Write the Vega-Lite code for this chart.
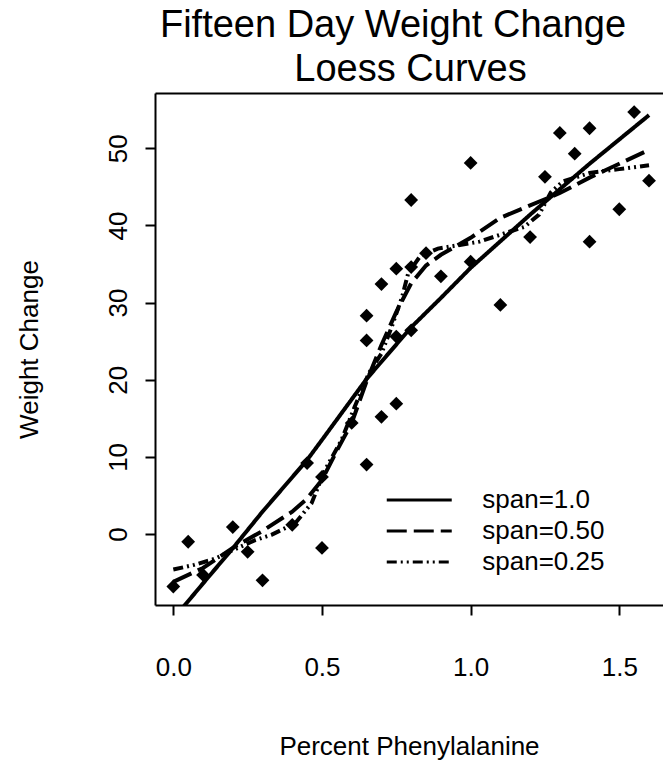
{
  "$schema": "https://vega.github.io/schema/vega-lite/v6.json",
  "width": 508,
  "height": 512,
  "autosize": "none",
  "padding": {"left": 155, "top": 93, "right": 0, "bottom": 157},
  "background": "white",
  "title": {
    "text": "Fifteen Day Weight Change",
    "fontSize": 38,
    "font": "Liberation Sans",
    "fontWeight": "normal",
    "baseline": "alphabetic",
    "offset": -25,
    "dx": -16,
    "anchor": "middle",
    "frame": "group",
    "color": "black"
  },
  "datasets": {
    "pts": [
      {"x": 0, "y": -6.8}, {"x": 0.05, "y": -1.0}, {"x": 0.1, "y": -5.3}, {"x": 0.2, "y": 0.9},
      {"x": 0.25, "y": -2.3}, {"x": 0.3, "y": -6.0}, {"x": 0.4, "y": 1.2}, {"x": 0.45, "y": 9.2},
      {"x": 0.5, "y": 7.4}, {"x": 0.5, "y": -1.8}, {"x": 0.6, "y": 14.4}, {"x": 0.65, "y": 9.0},
      {"x": 0.65, "y": 25.1}, {"x": 0.65, "y": 28.3}, {"x": 0.7, "y": 15.2}, {"x": 0.7, "y": 32.4},
      {"x": 0.75, "y": 16.9}, {"x": 0.75, "y": 25.6}, {"x": 0.75, "y": 34.4}, {"x": 0.8, "y": 26.4},
      {"x": 0.8, "y": 34.6}, {"x": 0.8, "y": 43.3}, {"x": 0.85, "y": 36.4}, {"x": 0.9, "y": 33.4},
      {"x": 1.0, "y": 35.3}, {"x": 1.0, "y": 48.1}, {"x": 1.1, "y": 29.7}, {"x": 1.2, "y": 38.5},
      {"x": 1.25, "y": 46.3}, {"x": 1.3, "y": 52.0}, {"x": 1.35, "y": 49.3}, {"x": 1.4, "y": 52.6},
      {"x": 1.4, "y": 37.9}, {"x": 1.5, "y": 42.1}, {"x": 1.55, "y": 54.7}, {"x": 1.6, "y": 45.8}
    ],
    "curves": [
      {"span": "span=1.0", "x": 0, "y": -11},
      {"span": "span=1.0", "x": 0.1, "y": -6.4},
      {"span": "span=1.0", "x": 0.2, "y": -1.85},
      {"span": "span=1.0", "x": 0.3, "y": 2.9},
      {"span": "span=1.0", "x": 0.45, "y": 9.6},
      {"span": "span=1.0", "x": 0.5, "y": 12.2},
      {"span": "span=1.0", "x": 0.65, "y": 20.1},
      {"span": "span=1.0", "x": 0.8, "y": 26.8},
      {"span": "span=1.0", "x": 0.9, "y": 30.6},
      {"span": "span=1.0", "x": 1.0, "y": 34.5},
      {"span": "span=1.0", "x": 1.2, "y": 41.4},
      {"span": "span=1.0", "x": 1.4, "y": 48.0},
      {"span": "span=1.0", "x": 1.6, "y": 54.3},
      {"span": "span=0.50", "x": 0, "y": -6.2},
      {"span": "span=0.50", "x": 0.1, "y": -4.4},
      {"span": "span=0.50", "x": 0.2, "y": -1.8},
      {"span": "span=0.50", "x": 0.3, "y": 0.4},
      {"span": "span=0.50", "x": 0.4, "y": 2.9},
      {"span": "span=0.50", "x": 0.45, "y": 4.6},
      {"span": "span=0.50", "x": 0.5, "y": 7.0},
      {"span": "span=0.50", "x": 0.55, "y": 10.8},
      {"span": "span=0.50", "x": 0.6, "y": 14.4},
      {"span": "span=0.50", "x": 0.65, "y": 19.8},
      {"span": "span=0.50", "x": 0.7, "y": 24.5},
      {"span": "span=0.50", "x": 0.75, "y": 28.8},
      {"span": "span=0.50", "x": 0.8, "y": 32.5},
      {"span": "span=0.50", "x": 0.85, "y": 34.8},
      {"span": "span=0.50", "x": 0.9, "y": 36.2},
      {"span": "span=0.50", "x": 1.0, "y": 38.4},
      {"span": "span=0.50", "x": 1.1, "y": 41.0},
      {"span": "span=0.50", "x": 1.2, "y": 42.6},
      {"span": "span=0.50", "x": 1.3, "y": 44.2},
      {"span": "span=0.50", "x": 1.4, "y": 46.2},
      {"span": "span=0.50", "x": 1.5, "y": 48.0},
      {"span": "span=0.50", "x": 1.6, "y": 49.8},
      {"span": "span=0.25", "x": 0, "y": -4.6},
      {"span": "span=0.25", "x": 0.07, "y": -4.0},
      {"span": "span=0.25", "x": 0.14, "y": -3.2},
      {"span": "span=0.25", "x": 0.2, "y": -2.1},
      {"span": "span=0.25", "x": 0.275, "y": -0.8},
      {"span": "span=0.25", "x": 0.33, "y": -0.1},
      {"span": "span=0.25", "x": 0.41, "y": 1.4},
      {"span": "span=0.25", "x": 0.465, "y": 4.0},
      {"span": "span=0.25", "x": 0.51, "y": 8.3},
      {"span": "span=0.25", "x": 0.566, "y": 12.2},
      {"span": "span=0.25", "x": 0.61, "y": 16.5},
      {"span": "span=0.25", "x": 0.657, "y": 20.8},
      {"span": "span=0.25", "x": 0.7, "y": 23.4},
      {"span": "span=0.25", "x": 0.735, "y": 26.9},
      {"span": "span=0.25", "x": 0.77, "y": 30.8},
      {"span": "span=0.25", "x": 0.79, "y": 33.8},
      {"span": "span=0.25", "x": 0.83, "y": 36.0},
      {"span": "span=0.25", "x": 0.89, "y": 37.0},
      {"span": "span=0.25", "x": 1.03, "y": 37.9},
      {"span": "span=0.25", "x": 1.115, "y": 39.0},
      {"span": "span=0.25", "x": 1.18, "y": 39.8},
      {"span": "span=0.25", "x": 1.23, "y": 41.4},
      {"span": "span=0.25", "x": 1.27, "y": 44.3},
      {"span": "span=0.25", "x": 1.31, "y": 45.7},
      {"span": "span=0.25", "x": 1.4, "y": 46.8},
      {"span": "span=0.25", "x": 1.5, "y": 47.3},
      {"span": "span=0.25", "x": 1.6, "y": 47.8}
    ]
  },
  "resolve": {"axis": {"x": "independent"}},
  "layer": [
    {
      "data": {"name": "curves"},
      "mark": {"type": "line", "clip": true, "strokeWidth": 4, "color": "black"},
      "encoding": {
        "x": {
          "field": "x", "type": "quantitative",
          "scale": {"domain": [-0.0616, 1.647], "nice": false, "zero": false},
          "axis": {
            "orient": "bottom",
            "values": [0, 0.5, 1, 1.5], "format": ".1f",
            "labelBaseline": "alphabetic", "labelPadding": 60.6, "labelAlign": "center",
            "title": "Percent Phenylalanine",
            "titleX": 254, "titleY": 149, "titleBaseline": "alphabetic", "titleAlign": "center", "titleAnchor": null
          }
        },
        "y": {
          "field": "y", "type": "quantitative",
          "scale": {"domain": [-9.2, 57.17], "nice": false, "zero": false},
          "axis": {
            "values": [0, 10, 20, 30, 40, 50],
            "labelAngle": -90, "labelAlign": "center", "labelBaseline": "alphabetic", "labelPadding": 18.5,
            "title": "Weight Change",
            "titleX": -117.7, "titleY": 256, "titleBaseline": "alphabetic", "titleAlign": "center", "titleAngle": -90, "titleAnchor": null
          }
        },
        "strokeDash": {
          "field": "span", "type": "nominal",
          "scale": {
            "domain": ["span=1.0", "span=0.50", "span=0.25"],
            "range": [[1, 0], [20, 7], [10, 4, 2, 4, 2, 4]]
          },
          "legend": {
            "orient": "none", "legendX": 246.25, "legendY": 389,
            "title": null, "symbolType": "M-2,0H2", "symbolSize": 1056,
            "symbolStrokeWidth": 3, "symbolStrokeColor": "black",
            "labelFontSize": 26, "labelFont": "Liberation Sans", "labelColor": "black",
            "labelOffset": 45, "rowPadding": -2, "padding": 0, "labelLimit": 400,
            "direction": "vertical"
          }
        }
      }
    },
    {
      "data": {"name": "pts"},
      "mark": {"type": "point", "shape": "diamond", "filled": true, "color": "black", "size": 190, "opacity": 1},
      "encoding": {
        "x": {
          "field": "x", "type": "quantitative",
          "axis": {
            "orient": "top", "labels": false, "ticks": false, "domain": true,
            "title": "Loess Curves", "titleFontSize": 38,
            "titleX": 255, "titleY": -13, "titleBaseline": "alphabetic", "titleAlign": "center", "titleAnchor": null
          }
        },
        "y": {"field": "y", "type": "quantitative"}
      }
    }
  ],
  "config": {
    "font": "Liberation Sans",
    "view": {"stroke": null},
    "axis": {
      "grid": false,
      "domainColor": "black", "domainWidth": 2,
      "tickColor": "black", "tickWidth": 2, "tickSize": 10,
      "labelFontSize": 26, "labelColor": "black", "labelFont": "Liberation Sans",
      "labelFlush": false, "labelOverlap": false,
      "titleFontSize": 26, "titleFontWeight": "normal", "titleColor": "black", "titleFont": "Liberation Sans"
    }
  }
}
